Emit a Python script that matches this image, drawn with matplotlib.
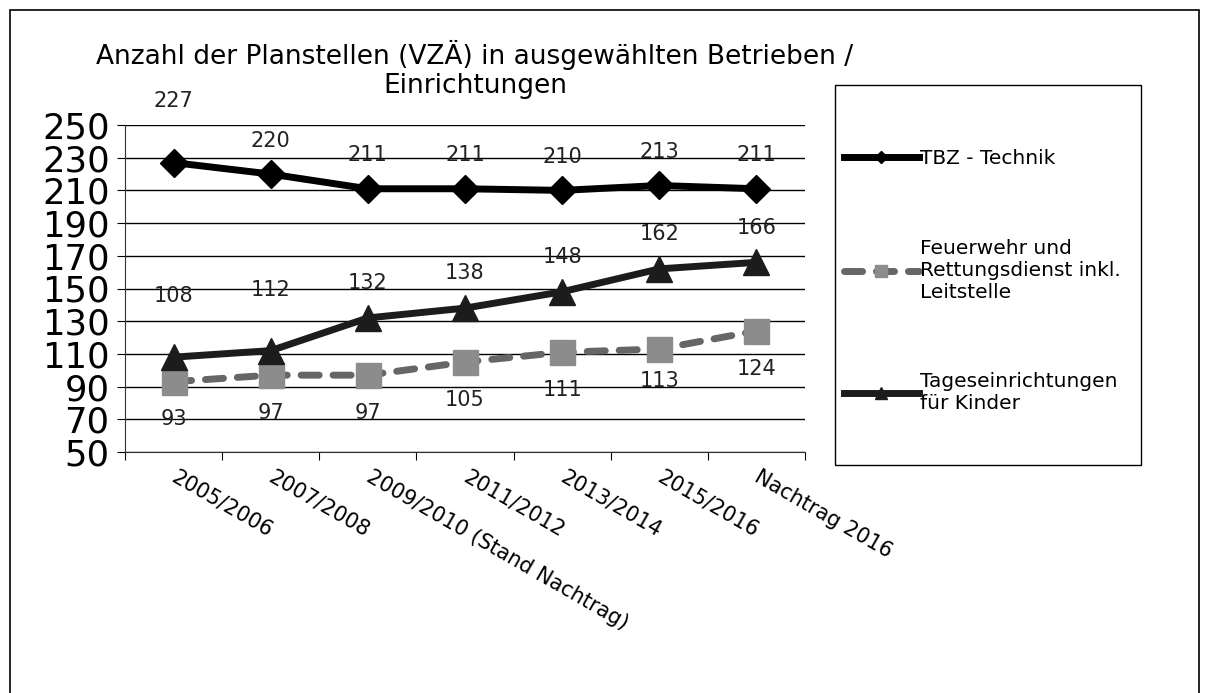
import matplotlib.pyplot as plt
from matplotlib.patches import Rectangle

# Data
categories = ["2005/2006", "2007/2008", "2009/2010 (Stand Nachtrag)", "2011/2012",
              "2013/2014", "2015/2016", "Nachtrag 2016"]
tbz = [227, 220, 211, 211, 210, 213, 211]
feuerwehr = [93, 97, 97, 105, 111, 113, 124]
kitas = [108, 112, 132, 138, 148, 162, 166]
yticks = list(range(50, 251, 20))

plt.rcParams['font.family'] = ['DejaVu Sans']

fig = plt.figure(figsize=(12.08, 6.93), dpi=100)
W, H = 1208, 693

def fx(px):
    return px / W

def fy(py):
    return 1 - py / H

# outer frame
fig.patches.append(Rectangle((fx(10), fy(700)), fx(1199) - fx(10), fy(10) - fy(700),
                             transform=fig.transFigure, fill=False, edgecolor='black',
                             linewidth=1.2))

ax = fig.add_axes([fx(125), fy(452), fx(805) - fx(125), fy(125) - fy(452)])
x = list(range(len(categories)))

l1, = ax.plot(x, tbz, color='black', linewidth=5, marker='D', markersize=14,
              solid_joinstyle='round', label='TBZ - Technik', zorder=4)
l2, = ax.plot(x, feuerwehr, color='#666666', linewidth=5, dashes=(2.6, 2.0),
              dash_capstyle='round', marker='s', markersize=18, markerfacecolor='#8c8c8c',
              markeredgecolor='#8c8c8c', label='Feuerwehr und\nRettungsdienst inkl.\nLeitstelle',
              zorder=3)
l3, = ax.plot(x, kitas, color='#1c1c1c', linewidth=5, marker='^', markersize=19,
              label='Tageseinrichtungen\nfür Kinder', zorder=4)

lab = dict(fontsize=15, ha='center', color='#222222', annotation_clip=False)
for i, v in enumerate(tbz):
    off = 44 if i == 0 else 24
    ax.annotate(str(v), (i, v), xytext=(0, off), textcoords='offset points', va='center', **lab)
for i, v in enumerate(kitas):
    off = 44 if i < 2 else 25
    ax.annotate(str(v), (i, v), xytext=(0, off), textcoords='offset points', va='center', **lab)
for i, v in enumerate(feuerwehr):
    off = -23 if i == 5 else -27
    ax.annotate(str(v), (i, v), xytext=(0, off), textcoords='offset points', va='center', **lab)

ax.set_xlim(-0.5, len(categories) - 0.5)
ax.set_ylim(50, 250)
ax.set_yticks(yticks)
ax.tick_params(axis='y', labelsize=25.5, length=6, direction='out', pad=5)
ax.grid(axis='y', color='black', linewidth=1)
ax.set_axisbelow(True)

ax.set_xticks([i - 0.5 for i in range(len(categories) + 1)])
ax.set_xticklabels([])
ax.set_xticks(x, minor=True)
ax.set_xticklabels(categories, minor=True, rotation=-30, ha='left', va='center',
                   rotation_mode='anchor', fontsize=15)
ax.tick_params(axis='x', which='major', length=6, direction='out')
ax.tick_params(axis='x', which='minor', length=0, pad=17)

for side in ('top', 'right'):
    ax.spines[side].set_visible(False)
ax.spines['left'].set_color('#333333')
ax.spines['bottom'].set_color('#333333')

fig.text(fx(475), fy(55), "Anzahl der Planstellen (VZÄ) in ausgewählten Betrieben /",
         ha='center', va='center', fontsize=19)
fig.text(fx(475), fy(86), "Einrichtungen", ha='center', va='center', fontsize=19)

# legend box
fig.patches.append(Rectangle((fx(835), fy(465)), fx(1141) - fx(835), fy(85) - fy(465),
                             transform=fig.transFigure, fill=False, edgecolor='black',
                             linewidth=1))
fig.legend(handles=[l1, l2, l3], loc='upper left', bbox_to_anchor=(fx(826), fy(131)),
           frameon=False, fontsize=14.5, handlelength=3.7, handletextpad=0.05,
           labelspacing=3.5, markerscale=0.45)

fig.savefig('out.png', dpi=100)
